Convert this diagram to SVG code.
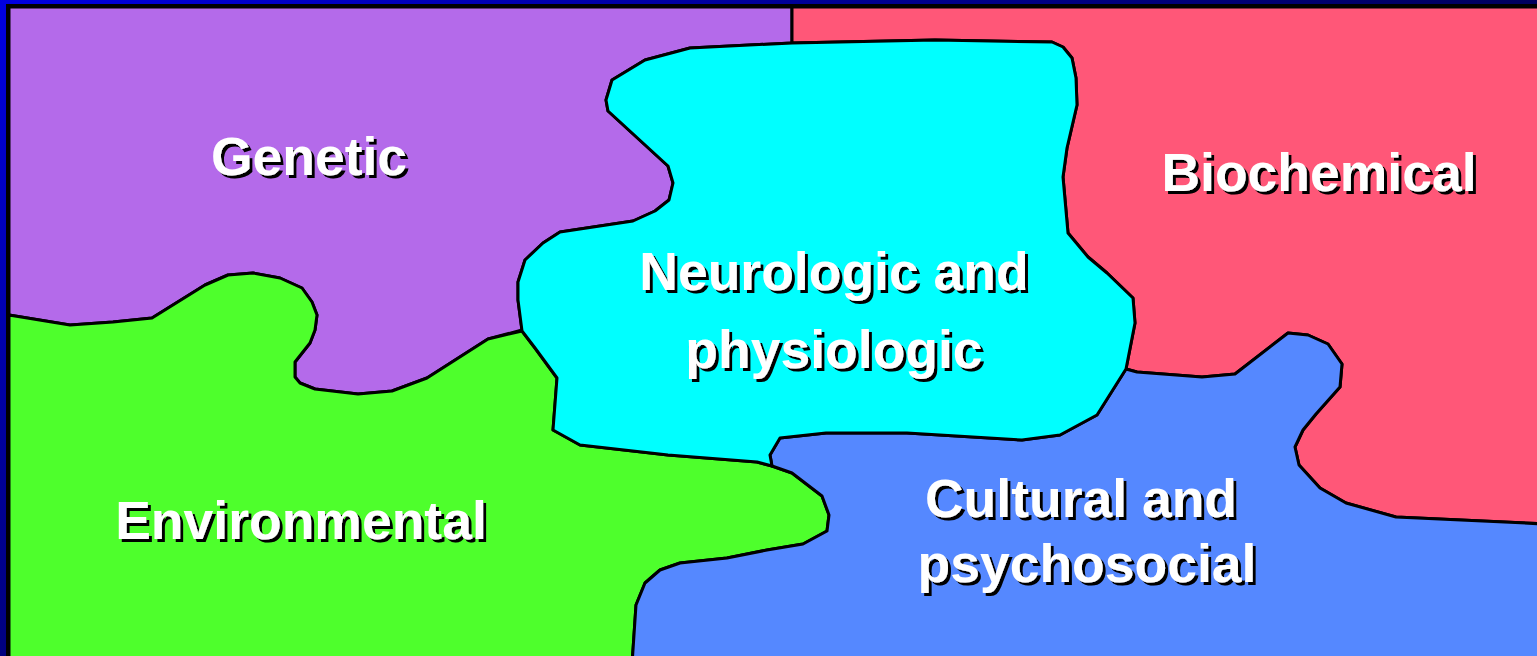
<svg xmlns="http://www.w3.org/2000/svg" width="1537" height="656" viewBox="0 0 1537 656">
  <defs>
    <linearGradient id="bg" gradientUnits="userSpaceOnUse" x1="0" y1="0" x2="420" y2="700">
      <stop offset="0" stop-color="#0000e0"/>
      <stop offset="0.55" stop-color="#000090"/>
      <stop offset="1" stop-color="#00005a"/>
    </linearGradient>
    <filter id="shadow" x="-10%" y="-20%" width="120%" height="150%">
      <feOffset in="SourceAlpha" dx="3" dy="3" result="off"/>
      <feFlood flood-color="#000000"/>
      <feComposite in2="off" operator="in" result="sh"/>
      <feMerge>
        <feMergeNode in="sh"/>
        <feMergeNode in="SourceGraphic"/>
      </feMerge>
    </filter>
    <style>
      .piece { stroke: #000000; stroke-width: 3; stroke-linejoin: round; }
      .label { font-family: "Liberation Sans", Arial, sans-serif; font-weight: bold; font-size: 53.5px; fill: #ffffff; text-anchor: middle; filter: url(#shadow); }
    </style>
  </defs>

  <!-- backdrop and frame -->
  <rect x="0" y="0" width="1537" height="656" fill="url(#bg)"/>
  <rect x="7.5" y="5.5" width="1540" height="660" fill="none" stroke="#000000" stroke-width="3"/>

  <g id="genetic">
    <polygon class="piece" fill="#b46aea" points="9,7 792,7 792,43 690,48 645,60 612,80 606,100 608,111 668,166 673,183 669,200 655,211 633,221 560,232 543,243 525,260 518,282 518,300 522,330 488,339 427,378 392,391 358,394 315,389 300,383 295,377 295,362 310,343 315,330 317,315 312,302 302,288 280,278 253,273 228,275 205,285 152,318 113,322 70,325 9,315"/>
    <text class="label" x="309" y="175">Genetic</text>
  </g>

  <g id="biochemical">
    <polygon class="piece" fill="#ff5778" points="792,7 1545,7 1545,524 1396,517 1346,503 1320,488 1299,465 1295,447 1303,430 1316,414 1340,387 1342,364 1328,344 1308,335 1288,333 1235,374 1202,377 1137,372 1126,369 1135,323 1133,298 1107,273 1088,257 1068,233 1063,177 1067,148 1077,105 1076,78 1072,58 1063,47 1052,42 935,40 792,43"/>
    <text class="label" x="1319" y="191">Biochemical</text>
  </g>

  <g id="environmental">
    <polygon class="piece" fill="#4eff2c" points="9,315 70,325 113,322 152,318 205,285 228,275 253,273 280,278 302,288 312,302 317,315 315,330 310,343 295,362 295,377 300,383 315,389 358,394 392,391 427,378 488,339 522,331 535,348 557,378 553,430 580,445 668,455 757,462 772,466 792,473 822,496 829,515 827,531 803,544 767,550 727,558 680,563 660,570 645,583 636,605 632,665 9,665"/>
    <text class="label" x="301" y="539">Environmental</text>
  </g>

  <g id="cultural">
    <polygon class="piece" fill="#5588ff" points="772,466 770,455 780,438 826,433 907,433 1022,440 1060,435 1097,415 1126,369 1137,372 1202,377 1235,374 1288,333 1308,335 1328,344 1342,364 1340,387 1316,414 1303,430 1295,447 1299,465 1320,488 1346,503 1396,517 1545,524 1545,665 632,665 636,605 645,583 660,570 680,563 727,558 767,550 803,544 827,531 829,515 822,496 792,473"/>
    <text class="label" x="1081" y="517">Cultural and</text>
    <text class="label" x="1087" y="582">psychosocial</text>
  </g>

  <g id="neurologic">
    <polygon class="piece" fill="#00ffff" points="690,48 792,43 935,40 1052,42 1063,47 1072,58 1076,78 1077,105 1067,148 1063,177 1068,233 1088,257 1107,273 1133,298 1135,323 1126,369 1097,415 1060,435 1022,440 907,433 826,433 780,438 770,455 772,466 757,462 668,455 580,445 553,430 557,378 535,348 522,331 518,300 518,282 525,260 543,243 560,232 633,221 655,211 669,200 673,183 668,166 608,111 606,100 612,80 645,60"/>
    <text class="label" x="834" y="290">Neurologic and</text>
    <text class="label" x="834" y="368">physiologic</text>
  </g>

  <!-- no connectors: the pieces share their borders -->
  <g id="connectors"/>
</svg>
